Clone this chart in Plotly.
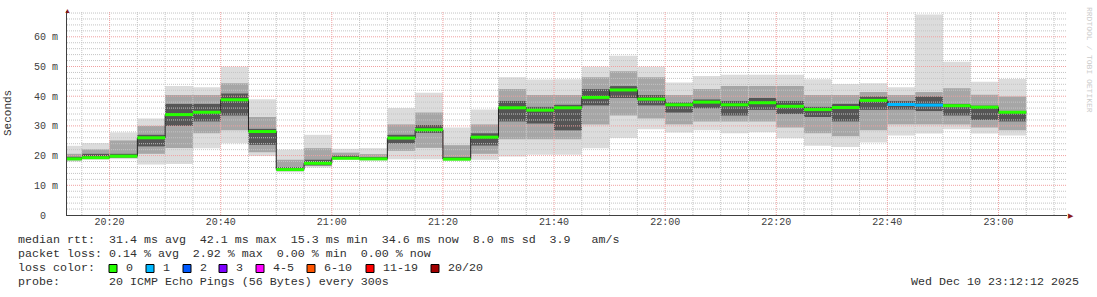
import pandas as pd
import numpy as np
import plotly.graph_objects as go

# ---------------- data ----------------
step_start = pd.date_range("2025-12-10 20:10", "2025-12-10 23:00", freq="5min")

rtt_min = [18.0, 18.6, 18.8, 17.0, 17.2, 22.5, 24.2, 19.9, 14.4, 16.0, 18.6, 18.3,
           18.8, 18.8, 18.3, 18.6, 19.7, 20.3, 20.3, 22.5, 25.9, 28.9, 27.8, 28.5,
           27.5, 27.9, 25.8, 23.3, 22.9, 24.4, 26.8, 27.4, 28.9, 27.4, 26.8]
rtt_q1 = [18.4, 19.0, 19.2, 20.6, 22.6, 27.5, 28.5, 21.1, 14.8, 16.6, 18.9, 18.6,
          21.6, 22.6, 18.6, 20.6, 25.5, 25.5, 25.5, 30.5, 33.5, 32.5, 30.5, 31.5,
          31.5, 31.5, 29.5, 27.5, 26.5, 28.5, 30.5, 30.5, 30.5, 29.5, 28.5]
rtt_core_lo = [18.6, 19.0, 19.4, 23.1, 30.0, 31.5, 33.5, 23.6, 14.9, 16.7, 18.9, 18.6,
               24.1, 27.6, 18.6, 23.4, 31.5, 30.8, 28.5, 36.9, 39.4, 36.9, 34.5, 35.9,
               33.5, 35.4, 34.0, 33.0, 31.5, 35.4, 35.5, 35.0, 33.5, 32.0, 31.5]
rtt_median = [18.9, 19.3, 19.8, 26.0, 33.8, 34.6, 38.8, 28.1, 15.3, 17.4, 19.1, 18.9,
              25.9, 28.7, 18.8, 26.2, 36.1, 35.3, 36.1, 39.6, 42.1, 39.0, 37.1, 38.0,
              37.1, 37.8, 36.6, 35.5, 36.2, 38.6, 37.2, 37.0, 36.8, 36.3, 34.6]
rtt_core_hi = [19.6, 20.6, 20.6, 27.0, 37.4, 37.4, 40.9, 29.0, 16.1, 18.6, 20.0, 19.5,
               27.0, 30.3, 19.5, 27.5, 38.4, 36.4, 37.1, 42.4, 43.4, 40.4, 37.9, 38.9,
               38.4, 39.4, 38.4, 36.4, 37.4, 39.9, 38.4, 39.9, 37.4, 36.8, 35.0]
rtt_q3 = [20.6, 22.1, 25.1, 30.0, 40.4, 40.4, 44.4, 33.0, 18.6, 22.5, 21.0, 20.5,
          30.5, 34.5, 23.5, 30.5, 42.4, 40.4, 40.4, 46.4, 48.4, 46.4, 40.4, 42.4,
          43.4, 43.4, 43.4, 40.4, 40.4, 41.4, 40.4, 41.4, 42.7, 40.5, 39.9]
rtt_max = [23.3, 24.2, 27.8, 32.5, 43.4, 43.0, 49.9, 39.0, 22.0, 27.0, 22.3, 22.5,
           36.0, 41.2, 29.5, 35.5, 46.4, 45.6, 45.7, 49.9, 53.6, 49.9, 44.6, 46.8,
           47.2, 47.2, 47.2, 45.7, 44.1, 44.4, 43.0, 67.5, 51.6, 44.9, 45.8]
lost_pings = [0, 0, 0, 0, 0, 0, 0, 0, 0, 0, 0, 0, 0, 0, 0, 0, 0, 0, 0, 0, 0, 0,
              0, 0, 0, 0, 0, 0, 0, 0, 1, 1, 0, 0, 0]

loss_labels = ["0", "1", "2", "3", "4-5", "6-10", "11-19", "20/20"]
loss_colors = ["#26ff00", "#00b8ff", "#0059ff", "#7e00ff", "#ff00ff", "#ff5500", "#ff0000", "#a10000"]

y_tick_vals = [0, 10, 20, 30, 40, 50, 60]
y_tick_text = ["0\u00a0\u00a0", "10 m", "20 m", "30 m", "40 m", "50 m", "60 m"]

stats_lines = [
    "median rtt:  31.4 ms avg  42.1 ms max  15.3 ms min  34.6 ms now  8.0 ms sd  3.9   am/s",
    "packet loss: 0.14 % avg  2.92 % max  0.00 % min  0.00 % now",
    "loss color:",
    "probe:       20 ICMP Echo Pings (56 Bytes) every 300s",
]
stamp = "Wed Dec 10 23:12:12 2025"

# ---------------- geometry ----------------
W, H = 1097, 297
ML, MR, MT, MB = 67, 30, 11, 82
PW, PH = W - ML - MR, H - MT - MB
x0 = pd.Timestamp("2025-12-10 20:12:20")
x1 = pd.Timestamp("2025-12-10 23:12:20")
Y0, Y1 = 0, PH / 2.97

step = pd.Timedelta("5min")
centers = step_start + step / 2
ends = step_start + step

def px2paper_x(px):
    return (px - ML) / PW

def px2paper_y(py):
    return (H - MB - py) / PH

fig = go.Figure()

# smoke bands
bands = [(rtt_min, rtt_max, "#dcdcdc"), (rtt_q1, rtt_q3, "#a6a6a6"), (rtt_core_lo, rtt_core_hi, "#555555")]
for lo, hi, col in bands:
    lo = np.array(lo); hi = np.array(hi)
    fig.add_trace(go.Bar(x=centers, y=hi - lo, base=lo, width=300000,
                         marker=dict(color=col, line=dict(width=0)),
                         showlegend=False, hoverinfo="skip"))

# grid (drawn above smoke, like rrdtool)
def grid_trace(xs_list, ys_list, color):
    gx, gy = [], []
    for xs, ys in zip(xs_list, ys_list):
        gx += list(xs) + [None]
        gy += list(ys) + [None]
    return go.Scatter(x=gx, y=gy, mode="lines", line=dict(color=color, width=1, dash="1px,1px"),
                      showlegend=False, hoverinfo="skip")

minor_h = [v for v in range(2, 69, 2) if v % 10 != 0]
major_h = [v for v in range(10, 69, 10)]
vt = pd.date_range("2025-12-10 20:15", "2025-12-10 23:10", freq="5min")
minor_v = [t for t in vt if t.minute % 20 != 0]
major_v = [t for t in vt if t.minute % 20 == 0]

fig.add_trace(grid_trace([[x0, x1]] * len(minor_h), [[v, v] for v in minor_h], "#c4c4c4"))
fig.add_trace(grid_trace([[t, t] for t in minor_v], [[Y0, Y1]] * len(minor_v), "#c4c4c4"))
fig.add_trace(grid_trace([[x0, x1]] * len(major_h), [[v, v] for v in major_h], "#f0a0a0"))
fig.add_trace(grid_trace([[t, t] for t in major_v], [[Y0, Y1]] * len(major_v), "#f0a0a0"))

# median black step line
mx = list(step_start) + [ends[-1]]
my = list(rtt_median) + [rtt_median[-1]]
fig.add_trace(go.Scatter(x=mx, y=my, mode="lines", line=dict(color="#202020", width=1, shape="hv"),
                         showlegend=False, hoverinfo="skip"))

# colored median segments by loss
def loss_idx(n):
    if n <= 3:
        return n
    if n <= 5:
        return 4
    if n <= 10:
        return 5
    if n <= 19:
        return 6
    return 7

for ci, col in enumerate(loss_colors):
    sx, sy = [], []
    for s, e, m, l in zip(step_start, ends, rtt_median, lost_pings):
        if loss_idx(l) == ci:
            sx += [s, e, None]
            sy += [m, m, None]
    if sx:
        fig.add_trace(go.Scatter(x=sx, y=sy, mode="lines", line=dict(color=col, width=3),
                                 showlegend=False, hoverinfo="skip"))

mono = "Liberation Mono"
txtcol = "#303030"

fig.update_layout(
    width=W, height=H, margin=dict(l=ML, r=MR, t=MT, b=MB),
    paper_bgcolor="white", plot_bgcolor="white", barmode="overlay", showlegend=False,
    xaxis=dict(type="date", range=[x0, x1], showgrid=False, zeroline=False,
               showline=True, linecolor="#404040", linewidth=1,
               tickmode="array", tickvals=major_v, ticktext=[t.strftime("%H:%M") for t in major_v],
               ticks="", ticklabelstandoff=-3, tickfont=dict(family=mono, size=10, color="#404040")),
    yaxis=dict(range=[Y0, Y1], showgrid=False, zeroline=False,
               showline=True, linecolor="#404040", linewidth=1,
               tickmode="array", tickvals=y_tick_vals, ticktext=y_tick_text,
               ticks="", ticklabelstandoff=6, tickfont=dict(family=mono, size=10, color="#404040")),
)

ann = []
# axis arrows
ann.append(dict(xref="paper", yref="paper", x=0, y=px2paper_y(10), text="\u25b2", showarrow=False,
                font=dict(size=7, color="#8b1a1a"), xanchor="center", yanchor="middle"))
ann.append(dict(xref="paper", yref="paper", x=px2paper_x(1071), y=0, text="\u25b6", showarrow=False,
                font=dict(size=7, color="#8b1a1a"), xanchor="center", yanchor="middle"))
# y title
ann.append(dict(xref="paper", yref="paper", x=px2paper_x(8), y=px2paper_y(113), text="Seconds",
                textangle=-90, showarrow=False, font=dict(family=mono, size=11, color=txtcol),
                xanchor="center", yanchor="middle"))
# watermark
ann.append(dict(xref="paper", yref="paper", x=px2paper_x(1090), y=px2paper_y(60),
                text="RRDTOOL / TOBI OETIKER", textangle=90, showarrow=False,
                font=dict(family=mono, size=8, color="#cccccc"), xanchor="center", yanchor="middle"))

line_y = [240, 254, 268, 282]
for txt, py in zip(stats_lines, line_y):
    ann.append(dict(xref="paper", yref="paper", x=px2paper_x(16), y=px2paper_y(py),
                    text=txt.replace(" ", "\u00a0"), showarrow=False,
                    font=dict(family=mono, size=11.67, color=txtcol), xanchor="left", yanchor="middle"))
ann.append(dict(xref="paper", yref="paper", x=px2paper_x(1081), y=px2paper_y(282),
                text=stamp.replace(" ", "\u00a0"), showarrow=False,
                font=dict(family=mono, size=11.67, color=txtcol), xanchor="right", yanchor="middle"))

box_px = [109, 146, 183, 219, 256, 307, 366, 431]
shapes = []
for bx, lab, col in zip(box_px, loss_labels, loss_colors):
    shapes.append(dict(type="rect", xref="paper", yref="paper",
                       x0=px2paper_x(bx), x1=px2paper_x(bx + 8),
                       y0=px2paper_y(264.5), y1=px2paper_y(272.5),
                       fillcolor=col, line=dict(color="#000000", width=1)))
    ann.append(dict(xref="paper", yref="paper", x=px2paper_x(bx + 15), y=px2paper_y(268),
                    text=lab, showarrow=False,
                    font=dict(family=mono, size=11.67, color=txtcol), xanchor="left", yanchor="middle"))

fig.update_layout(annotations=ann, shapes=shapes)
fig.write_html("out.html")
